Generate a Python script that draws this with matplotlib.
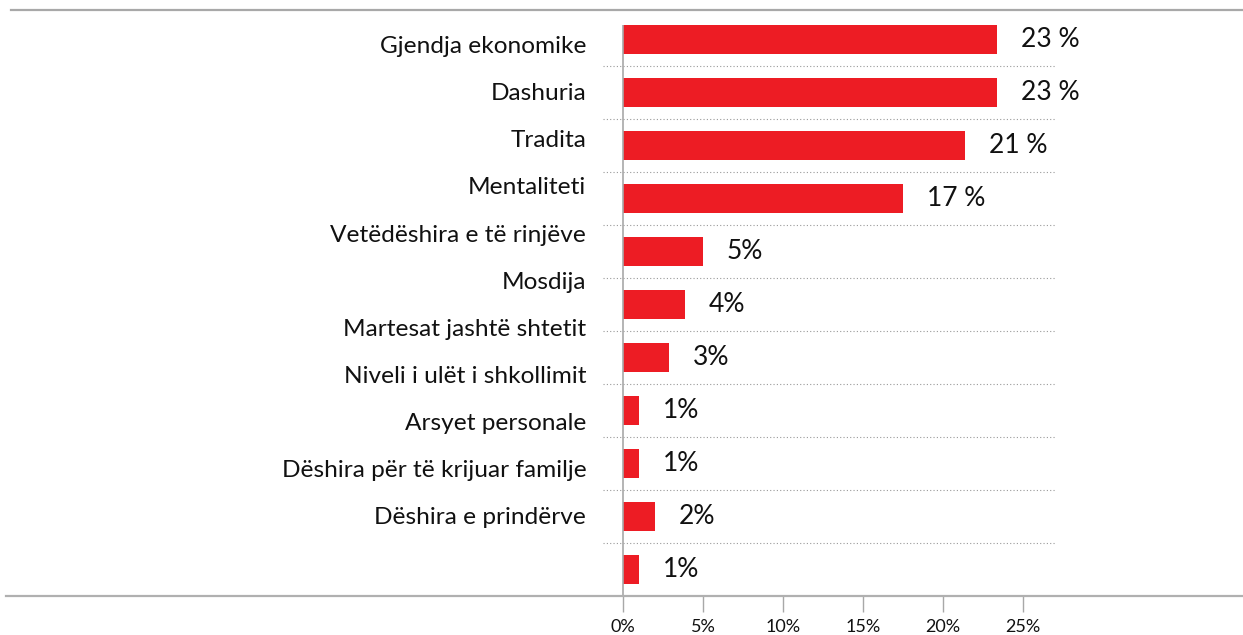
import numpy as np
import matplotlib
matplotlib.use('Agg')
import matplotlib.pyplot as plt
from matplotlib.lines import Line2D

plt.rcParams['font.family'] = ['Lato', 'DejaVu Sans']

# Data
categories = ['Gjendja ekonomike', 'Dashuria', 'Tradita', 'Mentaliteti',
              'Vetëdëshira e të rinjëve', 'Mosdija', 'Martesat jashtë shtetit',
              'Niveli i ulët i shkollimit', 'Arsyet personale',
              'Dëshira për të krijuar familje', 'Dëshira e prindërve']
values = [23.4, 23.4, 21.4, 17.5, 5.0, 3.9, 2.9, 1.0, 1.0, 2.0, 1.0]
value_labels = ['23 %', '23 %', '21 %', '17 %', '5%', '4%', '3%',
                '1%', '1%', '2%', '1%']
xticks = [0, 5, 10, 15, 20, 25]
xtick_labels = ['0%', '5%', '10%', '15%', '20%', '25%']

RED = '#ED1C24'
GRAY = '#a8a8a8'
W, H = 1243, 635

fig = plt.figure(figsize=(W / 100, H / 100), dpi=100)
ax = fig.add_axes([603 / W, 39 / H, 452 / W, 586 / H])

n = len(values)
pos = np.arange(n)
bar_h = 0.55
ax.barh(pos, values, height=bar_h, color=RED, zorder=3)
ax.set_xlim(-1.25, 27.0)
ax.set_ylim(n - 0.5, -0.56)

# value labels
for p, v, lab in zip(pos, values, value_labels):
    ax.annotate(lab, (v, p), xytext=(17, 0), textcoords='offset points',
                ha='left', va='center', fontsize=19, color='#111111')

# category labels sit a bit higher than the bars (as in the original)
label_pos = pos * 0.89 + 0.09
ax.set_yticks(label_pos)
ax.set_yticklabels(categories, fontsize=17.6, color='#111111')
ax.tick_params(axis='y', length=0, pad=12)

# dotted separators
ax.set_yticks(pos[:-1] + 0.5, minor=True)
ax.tick_params(axis='y', which='minor', length=0)
ax.grid(True, which='minor', axis='y', color='#999999', ls=(0, (1, 2)), lw=0.8)

# vertical zero line
ax.vlines(0, -bar_h / 2, n - 0.5, color=GRAY, lw=1.2, zorder=4)

ax.set_xticks(xticks)
ax.set_xticklabels(xtick_labels, fontsize=13, color='#111111')
ax.tick_params(axis='x', direction='out', length=11.5, width=1, color=GRAY, pad=5)

for s in ax.spines.values():
    s.set_visible(False)

# long horizontal rules across the figure
fig.add_artist(Line2D([11 / W, 1], [1 - 9.5 / H] * 2, color=GRAY, lw=1.6,
                      transform=fig.transFigure))
fig.add_artist(Line2D([6 / W, 1], [39 / H] * 2, color='#b0b0b0', lw=1.6,
                      transform=fig.transFigure))

fig.savefig('out.png', dpi=100)
